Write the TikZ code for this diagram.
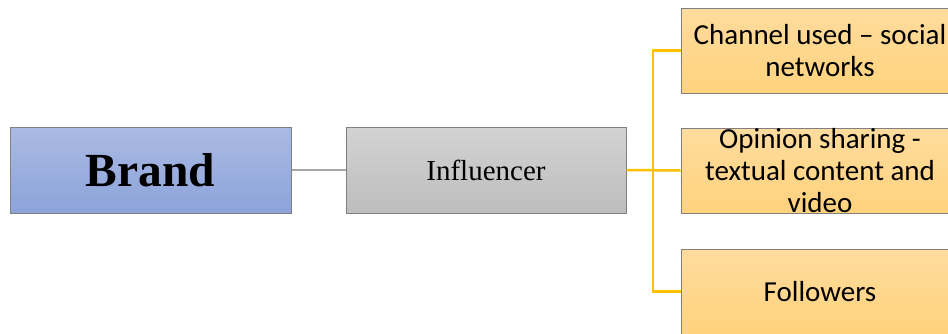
\documentclass[tikz,border=0pt]{standalone}
\usepackage{fontspec}
\setmainfont{Liberation Serif}
\newfontfamily\calibri{Carlito}
\usepackage{tikz}
\definecolor{brandtop}{HTML}{ABBAE3}
\definecolor{brandbot}{HTML}{8CA3DA}
\definecolor{infltop}{HTML}{D3D3D3}
\definecolor{inflbot}{HTML}{BDBDBD}
\definecolor{itemtop}{HTML}{FFDC9E}
\definecolor{itembot}{HTML}{FFD27C}
\definecolor{yline}{HTML}{FFC000}
\newcommand{\itemfont}{\calibri\fontsize{29}{32}\selectfont}

\begin{document}
\begin{tikzpicture}[
      x=1pt, y=-1pt, %one unit is one pixel of the reference
      box/.style={draw=black!50, line width=1pt, inner sep=0pt},
      brandbox/.style={box, top color=brandtop, bottom color=brandbot,
        minimum width=281, minimum height=86,
        font=\fontsize{47.5}{50}\selectfont\bfseries},
      inflbox/.style={box, top color=infltop, bottom color=inflbot,
        minimum width=280, minimum height=86,
        font=\fontsize{29}{32}\selectfont},
      itembox/.style={box, top color=itemtop, bottom color=itembot,
        minimum width=278, minimum height=85, align=center,
        font=\itemfont},
      grayline/.style={draw=black!35, line width=1.5pt},
      yellowline/.style={draw=yline, line width=2.5pt}
    ]
    \useasboundingbox (0,0) rectangle (948,333);
    % the left chain
    \node[brandbox] (brand) at (150.5,170) {Brand};
    \node[inflbox] (infl) at (486,170) {Influencer};
    % the three items on the right
    \node[itembox] (chan) at (820,50.5) {Channel used – social\\networks};
    \node[itembox] (opin) at (820,170.5) {Opinion sharing -\\textual content and\\video};
    \node[itembox] (foll) at (820,291.5) {Followers};
    % connectors
    \coordinate (fork) at (653,171);
    \draw[grayline] (brand) -- (infl);
    \draw[yellowline] (infl.east) -- (opin.west);
    \draw[yellowline] (chan.west) -| (fork) |- (foll.west);
\end{tikzpicture}
\end{document}
